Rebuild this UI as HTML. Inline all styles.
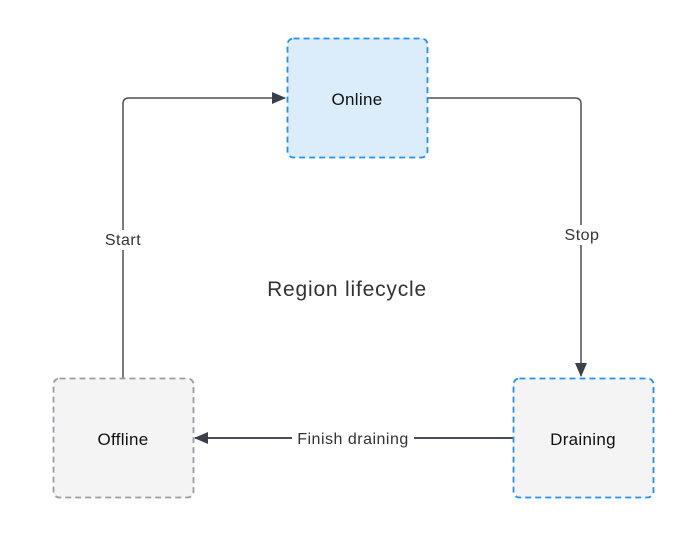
<!DOCTYPE html>
<html><head><meta charset="utf-8"><style>
html,body{margin:0;padding:0;background:#fff;}
svg{display:block;font-family:"Liberation Sans",sans-serif;}
</style></head><body>
<svg width="692" height="537" viewBox="0 0 692 537" xmlns="http://www.w3.org/2000/svg">
<defs><marker id="a" markerWidth="14" markerHeight="12" refX="13" refY="6" orient="auto" markerUnits="userSpaceOnUse"><path d="M0,0 L14,6 L0,12 z" fill="#3c4049"/></marker></defs>
<path d="M123,378 L123,104 Q123,98 129,98 L285,98" fill="none" stroke="#4a4e57" stroke-width="1.5" marker-end="url(#a)"/>
<path d="M428,98 L575,98 Q581,98 581,104 L581,376" fill="none" stroke="#4a4e57" stroke-width="1.5" marker-end="url(#a)"/>
<path d="M513,438 L195,438" fill="none" stroke="#4a4e57" stroke-width="2" marker-end="url(#a)"/>
<rect x="287.5" y="38.5" width="140" height="119" rx="6" fill="#dbecfa" stroke="#1e90ff" stroke-width="1.8" stroke-dasharray="6,4"/>
<rect x="53.5" y="378.5" width="140" height="119" rx="6" fill="#f4f4f4" stroke="#999ca3" stroke-width="1.8" stroke-dasharray="6,4"/>
<rect x="513.5" y="378.5" width="140" height="119" rx="6" fill="#f4f4f4" stroke="#1e90ff" stroke-width="1.8" stroke-dasharray="6,4"/>
<g font-size="17" fill="#111" text-anchor="middle" letter-spacing="0.3">
<text x="357" y="105">Online</text>
<text x="123" y="445">Offline</text>
<text x="583" y="445">Draining</text>
</g>
<rect x="102" y="230" width="42" height="20" fill="#fff"/>
<rect x="562" y="225" width="41" height="20" fill="#fff"/>
<rect x="292" y="429" width="122" height="20" fill="#fff"/>
<g font-size="16" fill="#333" text-anchor="middle" letter-spacing="0.5">
<text x="123" y="245">Start</text>
<text x="582" y="240">Stop</text>
<text x="353" y="444">Finish draining</text>
</g>
<text x="347" y="296" font-size="21" fill="#333" text-anchor="middle" letter-spacing="0.8">Region lifecycle</text>
</svg>
</body></html>
